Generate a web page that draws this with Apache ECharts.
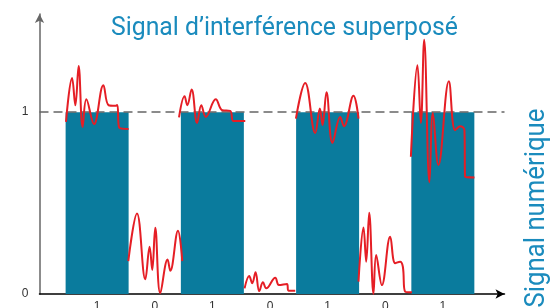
<!DOCTYPE html>
<html>
<head>
<meta charset="utf-8">
<script src="https://cdn.jsdelivr.net/npm/echarts@6/dist/echarts.min.js"></script>
<style>
  html, body { margin: 0; padding: 0; background: #fff; }
  #main { width: 550px; height: 308px; }
</style>
</head>
<body>
<div id="main"></div>
<script>
var bits = ['1', '0', '1', '0', '1', '0', '1'];
var bitValues = [1, 0, 1, 0, 1, 0, 1];

// bruit superposé, un morceau par bit : [x, niveau]
var noise1 = [[0.46, 0.947], [0.565, 1.188], [0.622, 1.038], [0.679, 1.254], [0.748, 0.919], [0.813, 1.071],
  [0.946, 0.934], [1.108, 1.148], [1.2, 1.038], [1.316, 1.035], [1.35, 1.04], [1.385, 0.914], [1.546, 0.907]];
var noise2 = [[1.541, 0.181], [1.692, 0.443], [1.836, 0.081], [1.911, 0.26], [1.957, 0.132], [2.009, 0.364],
  [2.096, 0.004], [2.223, 0.19], [2.27, 0.128], [2.403, 0.348], [2.478, 0.181]];
var noise3 = [[2.421, 0.971], [2.518, 1.088], [2.565, 1.038], [2.64, 1.125], [2.735, 0.941], [2.808, 1.038],
  [2.886, 0.974], [3.059, 1.071], [3.172, 1.011], [3.31, 1.007], [3.363, 0.952], [3.484, 0.952], [3.571, 0.952]];
var noise4 = [[3.559, 0.031], [3.64, 0.099], [3.692, 0.059], [3.749, 0.119], [3.814, 0.016], [3.878, 0.064],
  [3.935, 0.031], [4.091, 0.09], [4.155, 0.049], [4.294, 0.055], [4.322, 0.018], [4.438, 0.018]];
var noise5 = [[4.45, 0.965], [4.611, 1.161], [4.785, 0.886], [4.866, 1.02], [4.912, 0.929], [4.981, 1.11],
  [5.085, 0.831], [5.219, 0.974], [5.283, 0.923], [5.449, 1.09], [5.536, 0.965]];
var noise6 = [[5.536, 0.068], [5.623, 0.366], [5.67, 0.178], [5.722, 0.447], [5.796, 0.0], [5.843, 0.214],
  [5.942, 0.049], [6.086, 0.315], [6.173, 0.169], [6.259, 0.178], [6.306, 0.15], [6.346, 0.013], [6.464, 0.009]];
var noise7 = [[6.445, 0.755], [6.559, 1.258], [6.618, 0.941], [6.676, 1.399], [6.767, 0.615], [6.826, 0.996],
  [6.923, 0.709], [7.104, 1.17], [7.213, 0.901], [7.3, 0.923], [7.375, 0.901], [7.387, 0.645], [7.548, 0.641]];
var noiseParts = [noise1, noise2, noise3, noise4, noise5, noise6, noise7];

var titleText = 'Signal d\u2019interférence superposé';
var sideText = 'Signal numérique';

var dom = document.getElementById('main');
var myChart = echarts.init(dom, null, { renderer: 'canvas' });

// largeur de texte pour imiter une police condensée
var ctx = document.createElement('canvas').getContext('2d');
function squeeze(text, font, target) {
    ctx.font = font;
    return target / ctx.measureText(text).width;
}
var titleFont = '26px Roboto';
var sideFont = '27px Roboto';

var series = [{
    type: 'bar',
    data: bitValues.map(function (v, i) { return [i + 1, v]; }),
    barWidth: 63,
    itemStyle: { color: '#0a7b9d' },
    z: 2,
    markLine: {
        silent: true,
        symbol: 'none',
        label: { show: false },
        lineStyle: { color: '#666', type: [9, 5], width: 1.5 },
        data: [{ yAxis: 1 }],
        z: 3
    }
}];
noiseParts.forEach(function (part) {
    series.push({
        type: 'line',
        data: part,
        smooth: 0.4,
        showSymbol: false,
        lineStyle: { color: '#e51e25', width: 2 },
        z: 4
    });
});

option = {
    animation: false,
    grid: { left: 39.5, right: 45.5, top: 14, bottom: 14, outerBoundsMode: 'none' },
    xAxis: {
        type: 'value',
        min: 0,
        max: 8.07,
        interval: 1,
        axisLine: { show: true, symbol: ['none', 'arrow'], symbolSize: [7, 9], lineStyle: { color: '#000', width: 1.5 } },
        axisTick: { show: false },
        splitLine: { show: false },
        axisLabel: {
            margin: 7,
            fontSize: 12,
            color: '#333',
            formatter: function (v) {
                return (v >= 1 && v <= 7 && Math.round(v) === v) ? bits[v - 1] : '';
            }
        }
    },
    yAxis: {
        type: 'value',
        min: 0,
        max: 1.54,
        interval: 1,
        axisLine: { show: true, symbol: ['none', 'arrow'], symbolSize: [7, 9], lineStyle: { color: '#666', width: 1.5 } },
        axisTick: { show: false },
        splitLine: { show: false },
        axisLabel: {
            margin: 11,
            fontSize: 12,
            color: '#333',
            formatter: function (v) { return (v === 0 || v === 1) ? String(v) : ''; }
        }
    },
    graphic: [{
        type: 'text',
        x: 284.5,
        y: 28,
        scaleX: squeeze(titleText, titleFont, 347),
        style: { text: titleText, font: titleFont, fill: '#1a8bbd', align: 'center', verticalAlign: 'middle' }
    }, {
        type: 'text',
        x: 537,
        y: 208,
        rotation: Math.PI / 2,
        scaleX: squeeze(titleText, titleFont, 347),
        style: { text: sideText, font: sideFont, fill: '#1a8bbd', align: 'center', verticalAlign: 'middle' }
    }],
    series: series
};

if (option && typeof option === "object") {
    myChart.setOption(option, true);
}

window.addEventListener("resize", function () {
    myChart.resize();
})
</script>
</body>
</html>
